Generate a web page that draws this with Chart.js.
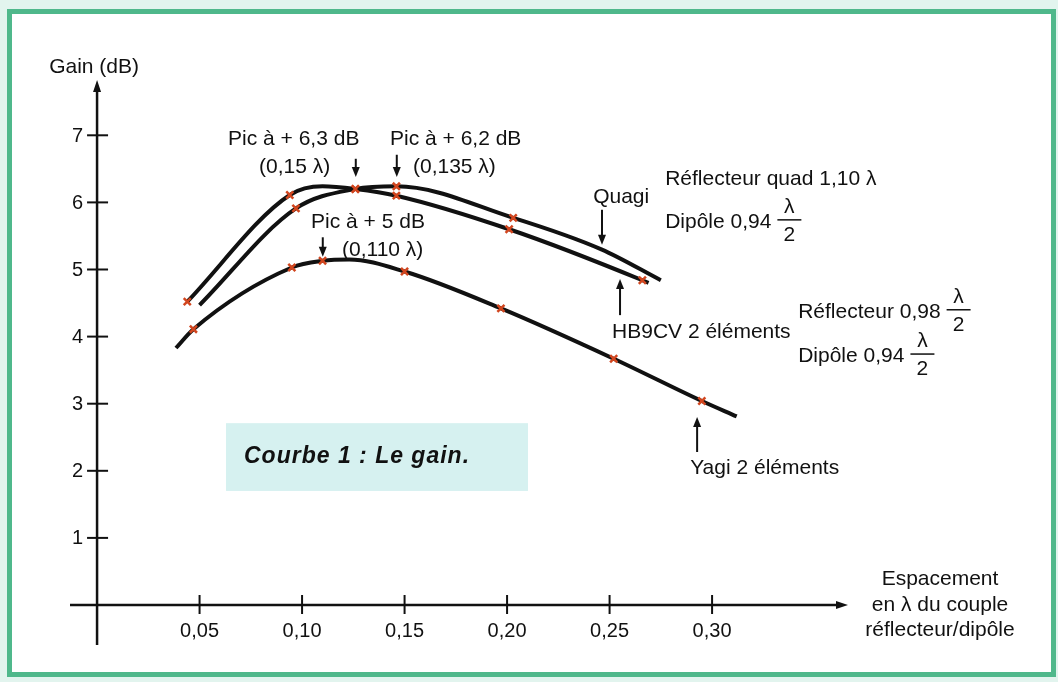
<!DOCTYPE html>
<html>
<head>
<meta charset="utf-8">
<title>Courbe 1 : Le gain</title>
<script src="https://cdn.jsdelivr.net/npm/chart.js@4.4.0/dist/chart.umd.min.js"></script>
<style>
  html, body { margin: 0; padding: 0; background: #e2f4ee; }
  #frame {
    position: absolute; left: 7px; top: 9px;
    width: 1039px; height: 658px;
    border: 5px solid #4fb88b; background: #ffffff;
  }
  #wrap { position: absolute; left: 0; top: 0; width: 1058px; height: 682px; }
</style>
</head>
<body>
<div id="frame"></div>
<div id="wrap"><canvas id="gainChart"></canvas></div>
<script>
// Axis ticks
const xTicks = [0.05, 0.10, 0.15, 0.20, 0.25, 0.30];
const xTickLabels = ['0,05', '0,10', '0,15', '0,20', '0,25', '0,30'];
const yTicks = [1, 2, 3, 4, 5, 6, 7];
const yTickLabels = ['1', '2', '3', '4', '5', '6', '7'];

// Quagi (upper curve on the right)
const quagiX = [0.050, 0.097, 0.126, 0.146, 0.203, 0.246, 0.275];
const quagiY = [4.47, 5.91, 6.20, 6.24, 5.77, 5.30, 4.84];
const quagiMarked = [0, 1, 1, 1, 1, 0, 0];

// HB9CV 2 elements
const hb9cvX = [0.044, 0.094, 0.110, 0.126, 0.146, 0.201, 0.266, 0.269];
const hb9cvY = [4.52, 6.11, 6.24, 6.20, 6.10, 5.60, 4.84, 4.80];
const hb9cvMarked = [1, 1, 0, 1, 1, 1, 1, 0];

// Yagi 2 elements
const yagiX = [0.0385, 0.047, 0.095, 0.110, 0.123, 0.150, 0.197, 0.252, 0.295, 0.312];
const yagiY = [3.83, 4.11, 5.03, 5.13, 5.15, 4.97, 4.42, 3.67, 3.04, 2.81];
const yagiMarked = [0, 1, 1, 1, 0, 1, 1, 1, 1, 0];

// Axis range (value space)
const xMin = -0.0132, xMax = 0.3663;
const yMin = -0.596, yMax = 7.824;

const FONT = '"Liberation Sans", Arial, Helvetica, sans-serif';
const INK = '#111111';

// Labels placed in value space
const labels = [
    { text: 'Pic à + 6,3 dB', x: 0.0639, y: 6.94 },
    { text: '(0,15 λ)', x: 0.079, y: 6.53 },
    { text: 'Pic à + 6,2 dB', x: 0.1429, y: 6.94 },
    { text: '(0,135 λ)', x: 0.1541, y: 6.53 },
    { text: 'Pic à + 5 dB', x: 0.1044, y: 5.71 },
    { text: '(0,110 λ)', x: 0.1195, y: 5.29 },
    { text: 'Quagi', x: 0.242, y: 6.07 },
    { text: 'Réflecteur quad 1,10 λ', x: 0.2771, y: 6.35 },
    { text: 'Dipôle 0,94', x: 0.2771, y: 5.71, frac: true },
    { text: 'HB9CV 2 éléments', x: 0.2512, y: 4.07 },
    { text: 'Réflecteur 0,98', x: 0.342, y: 4.37, frac: true },
    { text: 'Dipôle 0,94', x: 0.342, y: 3.71, frac: true },
    { text: 'Yagi 2 éléments', x: 0.2893, y: 2.04 }
];

// Arrows: x, from y, to y (value space)
const arrows = [
    { x: 0.1262, from: 6.65, to: 6.38 },
    { x: 0.1462, from: 6.71, to: 6.38 },
    { x: 0.1101, from: 5.48, to: 5.19 },
    { x: 0.2463, from: 5.89, to: 5.37 },
    { x: 0.2551, from: 4.32, to: 4.86 },
    { x: 0.2927, from: 2.28, to: 2.80 }
];

const xTitle = ['Espacement', 'en λ du couple', 'réflecteur/dipôle'];

function toPoints(xs, ys) {
    return xs.map((v, i) => ({ x: v, y: ys[i] }));
}

function curve(label, xs, ys, marked) {
    return {
        label: label,
        data: toPoints(xs, ys),
        showLine: true,
        borderColor: INK,
        borderWidth: 4,
        cubicInterpolationMode: 'monotone',
        pointStyle: 'crossRot',
        pointRadius: ctx => marked[ctx.dataIndex] ? 5 : 0,
        pointBorderColor: '#d2461f',
        pointBorderWidth: 2.5,
        pointHoverRadius: 0
    };
}

function arrowHead(ctx, x, y, dir) {
    // dir: 1 = pointing down, -1 = up
    ctx.beginPath();
    ctx.moveTo(x, y);
    ctx.lineTo(x - 4, y - dir * 10);
    ctx.lineTo(x + 4, y - dir * 10);
    ctx.closePath();
    ctx.fill();
}

function drawFraction(ctx, cx, barY) {
    ctx.save();
    ctx.textAlign = 'center';
    ctx.textBaseline = 'middle';
    ctx.fillText('λ', cx, barY - 13);
    ctx.fillText('2', cx, barY + 15);
    ctx.fillRect(cx - 12, barY - 0.75, 24, 1.5);
    ctx.restore();
}

const sketchPlugin = {
    id: 'sketch',
    beforeDatasetsDraw(chart) {
        const { ctx, scales: { x, y } } = chart;
        const x0 = x.getPixelForValue(0);
        const y0 = y.getPixelForValue(0);
        ctx.save();

        // caption box
        const bx1 = x.getPixelForValue(0.0629), bx2 = x.getPixelForValue(0.2102);
        const by1 = y.getPixelForValue(2.71), by2 = y.getPixelForValue(1.70);
        ctx.fillStyle = '#d6f1f0';
        ctx.fillRect(bx1, by1, bx2 - bx1, by2 - by1);
        ctx.fillStyle = INK;
        ctx.font = 'italic bold 23px ' + FONT;
        ctx.letterSpacing = '1px';
        ctx.textBaseline = 'middle';
        ctx.textAlign = 'left';
        ctx.fillText('Courbe 1 : Le gain.', bx1 + 18, (by1 + by2) / 2);
        ctx.letterSpacing = '0px';

        // axes
        ctx.strokeStyle = INK;
        ctx.fillStyle = INK;
        ctx.lineWidth = 2.5;
        ctx.beginPath();
        ctx.moveTo(x0, y.bottom);
        ctx.lineTo(x0, y.top + 6);
        ctx.moveTo(x.left, y0);
        ctx.lineTo(x.right - 6, y0);
        ctx.stroke();
        // arrow heads
        ctx.beginPath();
        ctx.moveTo(x0, y.top);
        ctx.lineTo(x0 - 4, y.top + 12);
        ctx.lineTo(x0 + 4, y.top + 12);
        ctx.closePath();
        ctx.fill();
        ctx.beginPath();
        ctx.moveTo(x.right, y0);
        ctx.lineTo(x.right - 12, y0 - 4);
        ctx.lineTo(x.right - 12, y0 + 4);
        ctx.closePath();
        ctx.fill();

        // ticks
        ctx.lineWidth = 2;
        ctx.font = '20px ' + FONT;
        ctx.textBaseline = 'middle';
        ctx.textAlign = 'right';
        yTicks.forEach((v, i) => {
            const py = y.getPixelForValue(v);
            ctx.beginPath();
            ctx.moveTo(x0 - 10, py);
            ctx.lineTo(x0 + 11, py);
            ctx.stroke();
            ctx.fillText(yTickLabels[i], x0 - 14, py + 1);
        });
        ctx.textAlign = 'center';
        xTicks.forEach((v, i) => {
            const px = x.getPixelForValue(v);
            ctx.beginPath();
            ctx.moveTo(px, y0 - 10);
            ctx.lineTo(px, y0 + 9);
            ctx.stroke();
            ctx.fillText(xTickLabels[i], px, y0 + 26);
        });

        // axis titles
        ctx.font = '21px ' + FONT;
        ctx.fillText('Gain (dB)', x0 - 3, y.top - 13);
        xTitle.forEach((t, i) => {
            ctx.fillText(t, x.right + 92, y0 + (i - 1) * 25.5);
        });
        ctx.restore();
    },
    afterDatasetsDraw(chart) {
        const { ctx, scales: { x, y } } = chart;
        ctx.save();
        ctx.fillStyle = INK;
        ctx.strokeStyle = INK;
        ctx.font = '21px ' + FONT;
        ctx.textBaseline = 'middle';
        ctx.textAlign = 'left';
        labels.forEach(l => {
            const px = x.getPixelForValue(l.x);
            const py = y.getPixelForValue(l.y);
            ctx.fillText(l.text, px, py);
            if (l.frac) {
                const w = ctx.measureText(l.text).width;
                drawFraction(ctx, px + w + 18, py - 2);
            }
        });
        ctx.lineWidth = 2;
        arrows.forEach(a => {
            const px = x.getPixelForValue(a.x);
            const p1 = y.getPixelForValue(a.from);
            const p2 = y.getPixelForValue(a.to);
            const dir = p2 > p1 ? 1 : -1;
            ctx.beginPath();
            ctx.moveTo(px, p1);
            ctx.lineTo(px, p2 - dir * 6);
            ctx.stroke();
            arrowHead(ctx, px, p2, dir);
        });
        ctx.restore();
    }
};

new Chart(document.getElementById('gainChart'), {
    type: 'scatter',
    data: {
        datasets: [
            curve('Quagi', quagiX, quagiY, quagiMarked),
            curve('HB9CV 2 éléments', hb9cvX, hb9cvY, hb9cvMarked),
            curve('Yagi 2 éléments', yagiX, yagiY, yagiMarked)
        ]
    },
    options: {
        responsive: true,
        maintainAspectRatio: false,
        animation: false,
        layout: { padding: { left: 70, right: 210, top: 80, bottom: 37 } },
        plugins: {
            legend: { display: false },
            tooltip: { enabled: false }
        },
        scales: {
            x: { type: 'linear', min: xMin, max: xMax, display: false },
            y: { type: 'linear', min: yMin, max: yMax, display: false }
        }
    },
    plugins: [sketchPlugin]
});
</script>
</body>
</html>
